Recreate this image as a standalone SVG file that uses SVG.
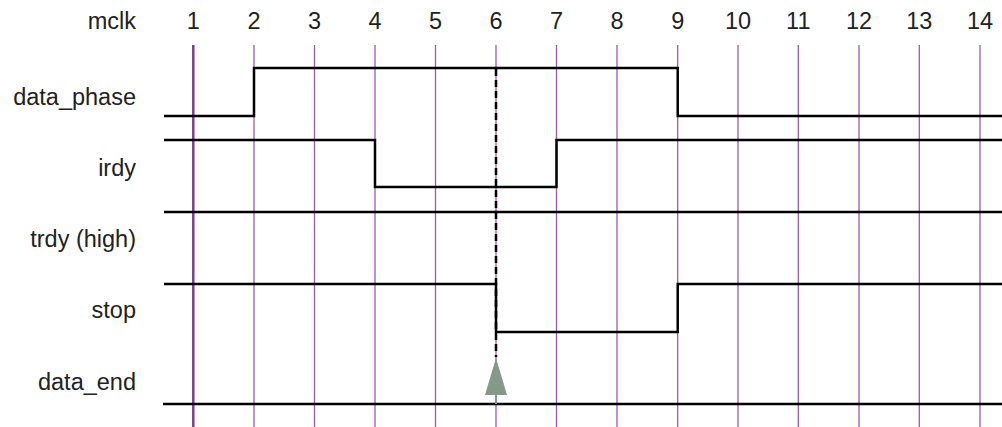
<svg xmlns="http://www.w3.org/2000/svg" width="1002" height="427" viewBox="0 0 1002 427">
<style>
text{font-family:"Liberation Sans",Arial,sans-serif;font-size:23.5px;fill:#222}
.lbl{text-anchor:end}
.num{text-anchor:middle}
.clk{stroke:#9b59b6;stroke-width:1.3;fill:none}
.sig{stroke:#000;stroke-width:2.5;fill:none}
</style>
<rect width="1002" height="427" fill="#fff"/>
<g id="clocks">
<text class="lbl" x="136" y="29">mclk</text>
<line x1="193.3" y1="45" x2="193.3" y2="427" stroke="#7d3c98" stroke-width="2.5"/>
<line class="clk" x1="254" y1="45" x2="254" y2="427"/>
<line class="clk" x1="314.5" y1="45" x2="314.5" y2="427"/>
<line class="clk" x1="375" y1="45" x2="375" y2="427"/>
<line class="clk" x1="435.5" y1="45" x2="435.5" y2="427"/>
<line class="clk" x1="496" y1="45" x2="496" y2="427"/>
<line class="clk" x1="556.5" y1="45" x2="556.5" y2="427"/>
<line class="clk" x1="617" y1="45" x2="617" y2="427"/>
<line class="clk" x1="677.7" y1="45" x2="677.7" y2="427"/>
<line class="clk" x1="738" y1="45" x2="738" y2="427"/>
<line class="clk" x1="798.3" y1="45" x2="798.3" y2="427"/>
<line class="clk" x1="859" y1="45" x2="859" y2="427"/>
<line class="clk" x1="919.3" y1="45" x2="919.3" y2="427"/>
<line class="clk" x1="980" y1="45" x2="980" y2="427"/>
<text class="num" x="193.3" y="29">1</text>
<text class="num" x="254" y="29">2</text>
<text class="num" x="314.5" y="29">3</text>
<text class="num" x="375" y="29">4</text>
<text class="num" x="435.5" y="29">5</text>
<text class="num" x="496" y="29">6</text>
<text class="num" x="556.5" y="29">7</text>
<text class="num" x="617" y="29">8</text>
<text class="num" x="677.7" y="29">9</text>
<text class="num" x="738" y="29">10</text>
<text class="num" x="798.3" y="29">11</text>
<text class="num" x="859" y="29">12</text>
<text class="num" x="919.3" y="29">13</text>
<text class="num" x="980" y="29">14</text>
</g>
<g id="data_phase">
<text class="lbl" x="136" y="105">data_phase</text>
<polyline class="sig" points="164,116 254,116 254,68 677.7,68 677.7,116 1002,116"/>
</g>
<g id="irdy">
<text class="lbl" x="136" y="176">irdy</text>
<polyline class="sig" points="164,140 375,140 375,187 556.5,187 556.5,140 1002,140"/>
</g>
<g id="trdy">
<text class="lbl" x="136" y="247">trdy (high)</text>
<polyline class="sig" points="164,212 1002,212"/>
</g>
<g id="stop">
<text class="lbl" x="136" y="318">stop</text>
<polyline class="sig" points="164,284 496,284 496,332 677.7,332 677.7,284 1002,284"/>
</g>
<g id="data_end">
<text class="lbl" x="136" y="390">data_end</text>
<polyline class="sig" points="163,404 1002,404"/>
</g>
<g id="connectors">
<line x1="496" y1="69" x2="496" y2="357" stroke="#000" stroke-width="2.5" stroke-dasharray="7,4"/>
<line x1="496" y1="394" x2="496" y2="404" stroke="#85998a" stroke-width="2"/>
<polygon points="496,358 485,395 507,395" fill="#85998a"/>
</g>
</svg>
